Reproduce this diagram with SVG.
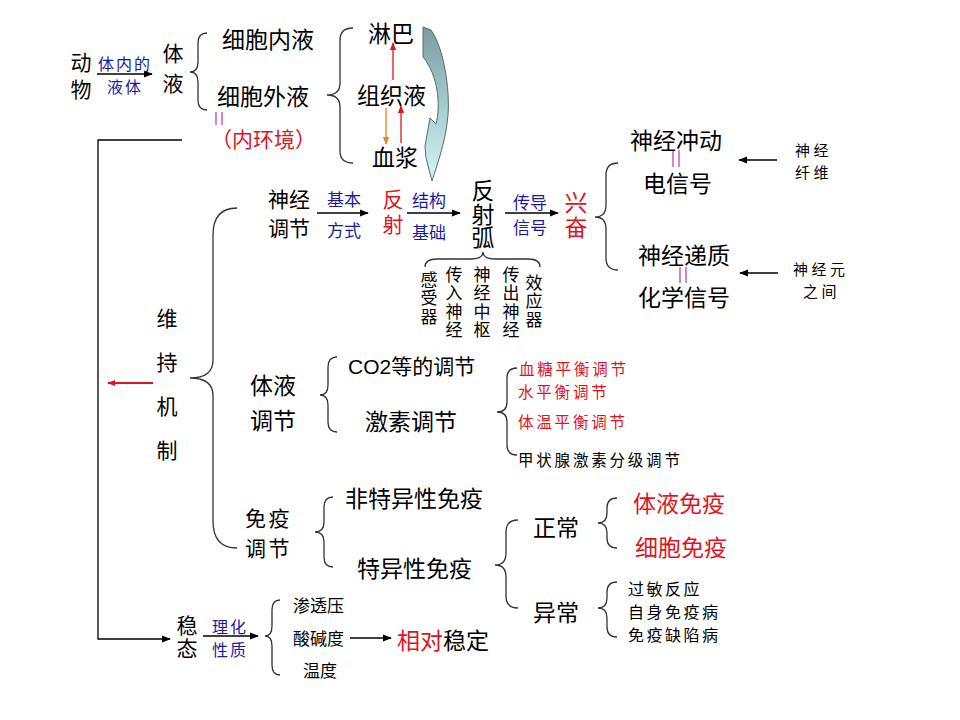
<svg xmlns="http://www.w3.org/2000/svg" width="960" height="720" viewBox="0 0 960 720">
<style>
text{font-family:"Noto Sans CJK SC","Noto Sans CJK JP",sans-serif;fill:#000}
.l{font-size:23px}
.m{font-size:21px}
.s{font-size:17px}
.t{font-size:16px;letter-spacing:2px}
.u{font-size:15px;letter-spacing:3.5px}
.h{font-size:15.5px;letter-spacing:2.8px}
.d{font-size:16px;letter-spacing:2.5px}
.b{fill:#1a1aa0}
.r{fill:#e0141e}
.v{writing-mode:vertical-rl}
.br{fill:none;stroke:#333;stroke-width:1.3}
.ln{fill:none;stroke:#000;stroke-width:1.3}
.eq{stroke:#c040c0;stroke-width:1.3}
</style>
<defs>
<marker id="ah" viewBox="0 0 10 10" refX="9" refY="5" markerWidth="9" markerHeight="9" markerUnits="userSpaceOnUse" orient="auto"><path d="M0,1 L10,5 L0,9 Z" fill="#000"/></marker>
<marker id="ahr" viewBox="0 0 10 10" refX="9" refY="5" markerWidth="8" markerHeight="8" markerUnits="userSpaceOnUse" orient="auto"><path d="M0,1 L10,5 L0,9 Z" fill="#e0141e"/></marker>
<marker id="aho" viewBox="0 0 10 10" refX="9" refY="5" markerWidth="8" markerHeight="8" markerUnits="userSpaceOnUse" orient="auto"><path d="M0,1 L10,5 L0,9 Z" fill="#f08020"/></marker>
<linearGradient id="cg" x1="0" y1="0" x2="0" y2="1"><stop offset="0" stop-color="#7a9ca2"/><stop offset="0.55" stop-color="#a9cfd3"/><stop offset="1" stop-color="#d6f4f6"/></linearGradient>
</defs>
<rect width="960" height="720" fill="#fff"/>

<g id="connectors">
<line class="ln" x1="97" y1="74" x2="152" y2="74" marker-end="url(#ah)"/>
<polyline class="ln" points="182,140 98,140 98,639 170,639" marker-end="url(#ah)"/>
<line x1="393" y1="80" x2="393" y2="43" stroke="#e0141e" stroke-width="1.3" marker-end="url(#ahr)"/>
<line x1="386" y1="108" x2="386" y2="144" stroke="#f08020" stroke-width="1.3" marker-end="url(#aho)"/>
<line x1="401" y1="143" x2="401" y2="106" stroke="#e0141e" stroke-width="1.3" marker-end="url(#ahr)"/>
<line class="ln" x1="317" y1="213" x2="368" y2="213" marker-end="url(#ah)"/>
<line class="ln" x1="407" y1="213" x2="460" y2="213" marker-end="url(#ah)"/>
<line class="ln" x1="505" y1="213" x2="558" y2="213" marker-end="url(#ah)"/>
<line class="ln" x1="777" y1="160" x2="739" y2="160" marker-end="url(#ah)"/>
<line class="ln" x1="778" y1="273" x2="740" y2="273" marker-end="url(#ah)"/>
<line x1="153" y1="383" x2="108" y2="383" stroke="#e0141e" stroke-width="2" marker-end="url(#ahr)"/>
<line class="ln" x1="203" y1="636" x2="258" y2="636" marker-end="url(#ah)"/>
<line class="ln" x1="350" y1="638" x2="391" y2="638" marker-end="url(#ah)"/>
<line class="eq" x1="216" y1="112" x2="216" y2="125"/><line class="eq" x1="222" y1="112" x2="222" y2="125"/>
<line class="eq" x1="673" y1="150" x2="673" y2="167"/><line class="eq" x1="679" y1="150" x2="679" y2="167"/>
<line class="eq" x1="680" y1="267" x2="680" y2="283"/><line class="eq" x1="686" y1="267" x2="686" y2="283"/>
<path d="M423,27 L431,30 C444,48 450,90 448,115 C446,140 438,162 432,181 L426,158 L425,146 L430,118 L436,124 C441,105 438,75 423,57 Z" fill="url(#cg)" stroke="#5a6a6c" stroke-width="1"/>
</g>

<g id="braces">
<path class="br" d="M207,33 Q198,33 198,43 L198,62 Q198,72 190,72 Q198,72 198,82 L198,100 Q198,110 207,110"/>
<path class="br" d="M353,28 Q340,28 340,40 L340,83 Q340,95 327,95 Q340,95 340,107 L340,151 Q340,163 353,163"/>
<path class="br" d="M425,267 Q425,259 437,259 L471,259 Q483,259 483,252 Q483,259 495,259 L528,259 Q540,259 540,267"/>
<path class="br" d="M618,163 Q606,163 606,175 L606,205 Q606,217 595,217 Q606,217 606,229 L606,258 Q606,270 618,270"/>
<path class="br" d="M237,208 Q213,208 213,235 L213,360 Q213,378 190,378 Q213,378 213,396 L213,521 Q213,548 237,548"/>
<path class="br" d="M337,357 Q328,357 328,367 L328,385 Q328,395 320,395 Q328,395 328,405 L328,422 Q328,432 337,432"/>
<path class="br" d="M517,368 Q507,368 507,378 L507,402 Q507,412 497,412 Q507,412 507,422 L507,445 Q507,455 517,455"/>
<path class="br" d="M333,497 Q324,497 324,507 L324,522 Q324,532 315,532 Q324,532 324,542 L324,557 Q324,567 333,567"/>
<path class="br" d="M518,520 Q506,520 506,532 L506,553 Q506,565 495,565 Q506,565 506,577 L506,596 Q506,608 518,608"/>
<path class="br" d="M617,498 Q607,498 607,508 L607,513 Q607,523 598,523 Q607,523 607,533 L607,538 Q607,548 617,548"/>
<path class="br" d="M617,582 Q607,582 607,592 L607,598 Q607,608 598,608 Q607,608 607,618 L607,627 Q607,637 617,637"/>
<path class="br" d="M280,600 Q272,600 272,610 L272,626 Q272,636 265,636 Q272,636 272,646 L272,665 Q272,675 280,675"/>
</g>

<g id="n-animal"><text class="m v" x="81" y="52" style="letter-spacing:6px">动物</text></g>
<g id="n-label1"><text class="t b" x="98" y="70">体内的</text><text class="t b" x="107" y="93">液体</text></g>
<g id="n-bodyfluid"><text class="m v" x="173" y="43" style="letter-spacing:9px">体液</text></g>
<g id="n-intracell"><text class="l" x="222" y="48">细胞内液</text></g>
<g id="n-extracell"><text class="l" x="217" y="105">细胞外液</text></g>
<g id="n-internal"><text class="m r" x="211" y="147">（内环境）</text></g>
<g id="n-lymph"><text class="l" x="368" y="42">淋巴</text></g>
<g id="n-tissue"><text class="l" x="357" y="104">组织液</text></g>
<g id="n-plasma"><text class="l" x="372" y="166">血浆</text></g>

<g id="n-neural"><text class="m" x="268" y="207">神经</text><text class="m" x="268" y="236">调节</text></g>
<g id="n-lab2"><text class="s b" x="327" y="206">基本</text><text class="s b" x="327" y="237">方式</text></g>
<g id="n-reflex"><text class="m r v" x="393" y="189" style="letter-spacing:4px">反射</text></g>
<g id="n-lab3"><text class="s b" x="412" y="207">结构</text><text class="s b" x="412" y="239">基础</text></g>
<g id="n-arc"><text class="l v" x="483" y="179" style="letter-spacing:0.5px">反射弧</text></g>
<g id="n-lab4"><text class="s b" x="513" y="209">传导</text><text class="s b" x="513" y="234">信号</text></g>
<g id="n-excite"><text class="l r v" x="576" y="191" style="letter-spacing:2px">兴奋</text></g>
<g id="n-arcparts">
<text class="s v" x="429" y="271" style="letter-spacing:1.3px">感受器</text>
<text class="s v" x="454" y="266" style="letter-spacing:1.3px">传入神经</text>
<text class="s v" x="482" y="266" style="letter-spacing:1.3px">神经中枢</text>
<text class="s v" x="511" y="266" style="letter-spacing:1.3px">传出神经</text>
<text class="s v" x="534" y="274" style="letter-spacing:1.3px">效应器</text>
</g>
<g id="n-impulse"><text class="l" x="630" y="149">神经冲动</text></g>
<g id="n-electric"><text class="l" x="643" y="192">电信号</text></g>
<g id="n-transmitter"><text class="l" x="638" y="264">神经递质</text></g>
<g id="n-chemical"><text class="l" x="638" y="306">化学信号</text></g>
<g id="n-fiber"><text class="u" x="795" y="156">神经</text><text class="u" x="795" y="178">纤维</text></g>
<g id="n-between"><text class="u" x="793" y="275">神经元</text><text class="u" x="803" y="297">之间</text></g>

<g id="n-maintain"><text class="m v" x="167" y="308" style="letter-spacing:23px">维持机制</text></g>
<g id="n-humoral"><text class="l" x="250" y="394">体液</text><text class="l" x="250" y="429">调节</text></g>
<g id="n-co2"><text x="348" y="374" style="font-family:'Liberation Sans','Noto Sans CJK SC',sans-serif;font-size:21px">CO2等的调节</text></g>
<g id="n-hormone"><text class="l" x="365" y="430">激素调节</text></g>
<g id="n-hormonelist">
<text class="h r" x="519" y="375">血糖平衡调节</text>
<text class="h r" x="518" y="398">水平衡调节</text>
<text class="h r" x="518" y="428">体温平衡调节</text>
<text class="h" x="518" y="466">甲状腺激素分级调节</text>
</g>
<g id="n-immune"><text class="m" x="245" y="526" style="letter-spacing:2.5px">免疫</text><text class="m" x="245" y="556" style="letter-spacing:2.5px">调节</text></g>
<g id="n-nonspec"><text class="l" x="345" y="507">非特异性免疫</text></g>
<g id="n-spec"><text class="l" x="357" y="577">特异性免疫</text></g>
<g id="n-normal"><text class="l" x="533" y="536">正常</text></g>
<g id="n-abnormal"><text class="l" x="533" y="621">异常</text></g>
<g id="n-humimm"><text class="l r" x="633" y="512">体液免疫</text></g>
<g id="n-cellimm"><text class="l r" x="635" y="556">细胞免疫</text></g>
<g id="n-disorders">
<text class="d" x="628" y="595">过敏反应</text>
<text class="d" x="628" y="618">自身免疫病</text>
<text class="d" x="628" y="641">免疫缺陷病</text>
</g>
<g id="n-homeo"><text class="m v" x="187" y="615" style="letter-spacing:2px">稳态</text></g>
<g id="n-lab5"><text class="t b" x="212" y="633">理化</text><text class="t b" x="212" y="656">性质</text></g>
<g id="n-osmo"><text class="s" x="293" y="612">渗透压</text></g>
<g id="n-ph"><text class="s" x="293" y="645">酸碱度</text></g>
<g id="n-temp"><text class="s" x="303" y="677">温度</text></g>
<g id="n-stable"><text class="l" x="397" y="649"><tspan class="r">相对</tspan>稳定</text></g>
</svg>
